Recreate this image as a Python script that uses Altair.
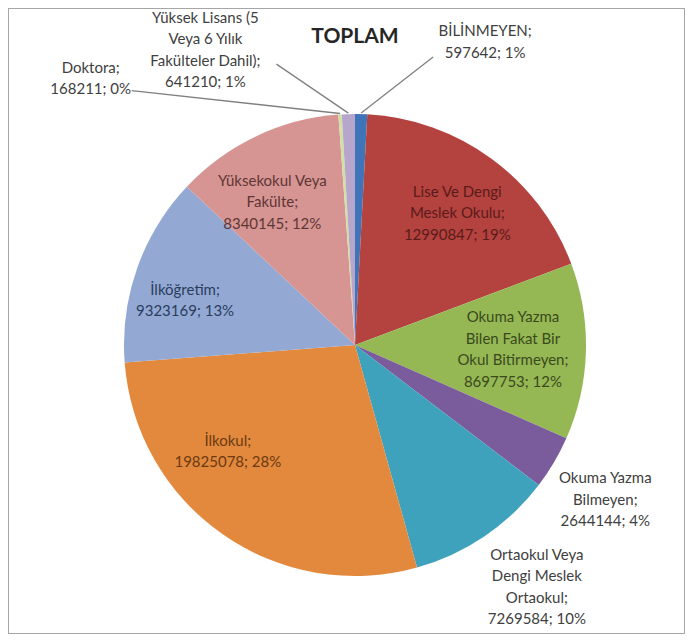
import math
import altair as alt
import pandas as pd

# ---------------- data ----------------
categories = [
    "BİLİNMEYEN",
    "Lise Ve Dengi Meslek Okulu",
    "Okuma Yazma Bilen Fakat Bir Okul Bitirmeyen",
    "Okuma Yazma Bilmeyen",
    "Ortaokul Veya Dengi Meslek Ortaokul",
    "İlkokul",
    "İlköğretim",
    "Yüksekokul Veya Fakülte",
    "Doktora",
    "Yüksek Lisans (5 Veya 6 Yılık Fakülteler Dahil)",
]
values = [597642, 12990847, 8697753, 2644144, 7269584, 19825078, 9323169, 8340145, 168211, 641210]
percent_labels = ["1%", "19%", "12%", "4%", "10%", "28%", "13%", "12%", "0%", "1%"]
# how each category name is wrapped in its label
name_lines = [
    ["BİLİNMEYEN;"],
    ["Lise Ve Dengi", "Meslek Okulu;"],
    ["Okuma Yazma", "Bilen Fakat Bir", "Okul Bitirmeyen;"],
    ["Okuma Yazma", "Bilmeyen;"],
    ["Ortaokul Veya", "Dengi Meslek", "Ortaokul;"],
    ["İlkokul;"],
    ["İlköğretim;"],
    ["Yüksekokul Veya", "Fakülte;"],
    ["Doktora;"],
    ["Yüksek Lisans (5", "Veya 6 Yılık", "Fakülteler Dahil);"],
]
title_text = "TOPLAM"

# ---------------- style / layout ----------------
slice_colors = ["#3F74B8", "#B4423F", "#95B855", "#7A5B9C", "#3FA2BC",
                "#E3893D", "#93A9D4", "#D69592", "#D3E0A4", "#B6A6CC"]
text_colors = ["#404040", "#5a1c1a", "#3b4a1c", "#404040", "#404040",
               "#6b3a12", "#2c3d5c", "#5e3636", "#404040", "#404040"]
FONT = "Lato"
FS, LH = 15, 21.5
W, H = 677, 626
CX, CY, R = 347, 337, 231
# label placement: radius from centre + nudge (like dragged Excel labels)
label_r = [305, 168, 158, 293, 301, 164, 176, 167, 268, 300]
label_dx = [122, 3, 0, -2, 13, -33, -4, -11, -247, -141]
label_dy = [2, 4, 0, 6, -7, -28, 14, 8, 1, 5]
# leader lines: start point offset relative to label centre
leader_off = {0: (-52, 15), 8: (41, 12), 9: (71, 14)}

# ---------------- tables ----------------
total = sum(values)
rows = []
cum = 0
for i, (c, v) in enumerate(zip(categories, values)):
    start, end = cum, cum + v
    cum = end
    text_lines = name_lines[i] + [f"{v}; {percent_labels[i]}"]
    shift = -(len(text_lines) - 1) * LH / 2  # centre the block vertically
    rows.append(dict(idx=i, cat=c, value=v, start=start, end=end, mid=(start + end) / 2,
                     label="\n".join(text_lines), tcol=text_colors[i], lr=label_r[i],
                     ox=CX + label_dx[i], oy=CY + label_dy[i] + shift))
df = pd.DataFrame(rows)

lines = []
for i, (ox, oy) in leader_off.items():
    a = df.loc[i, "mid"] / total * 2 * math.pi
    lx = CX + label_dx[i] + label_r[i] * math.sin(a)
    ly = CY + label_dy[i] - label_r[i] * math.cos(a)
    lines.append(dict(id=i, o=0, px=lx + ox, py=ly + oy))
    lines.append(dict(id=i, o=1, px=CX + (R + 1) * math.sin(a), py=CY - (R + 1) * math.cos(a)))
ldf = pd.DataFrame(lines)

theta_scale = alt.Scale(domain=[0, total], range=[0, 2 * math.pi])

pie = alt.Chart(df).mark_arc(outerRadius=R).encode(
    theta=alt.Theta("start:Q", scale=theta_scale),
    theta2="end:Q",
    color=alt.Color("cat:N", scale=alt.Scale(domain=categories, range=slice_colors), legend=None),
    x=alt.value(CX),
    y=alt.value(CY),
)

leaders = alt.Chart(ldf).mark_line(color="#808080", strokeWidth=1.3).encode(
    x=alt.X("px:Q", scale=None, axis=None),
    y=alt.Y("py:Q", scale=None, axis=None),
    detail="id:N",
    order="o:Q",
)

labels = alt.Chart(df).mark_text(font=FONT, fontSize=FS, lineHeight=LH, lineBreak="\n",
                                  align="center", baseline="middle").encode(
    theta=alt.Theta("mid:Q", scale=theta_scale, stack=None),
    radius=alt.Radius("lr:Q", scale=None),
    x=alt.X("ox:Q", scale=None, axis=None),
    y=alt.Y("oy:Q", scale=None, axis=None),
    text="label:N",
    color=alt.Color("tcol:N", scale=None),
)

title = alt.Chart(pd.DataFrame({"t": [title_text]})).mark_text(
    font=FONT, fontSize=21, fontWeight="bold", color="#262626", baseline="middle"
).encode(x=alt.value(CX), y=alt.value(29), text="t:N")

chart = alt.layer(pie, leaders, labels, title).properties(
    width=W, height=H, autosize=alt.AutoSizeParams(type="none"), padding=0,
    background="white",
).configure_view(stroke="#a6a6a6", strokeWidth=2)

chart.save("out.html", embed_options={"renderer": "svg", "actions": False})
